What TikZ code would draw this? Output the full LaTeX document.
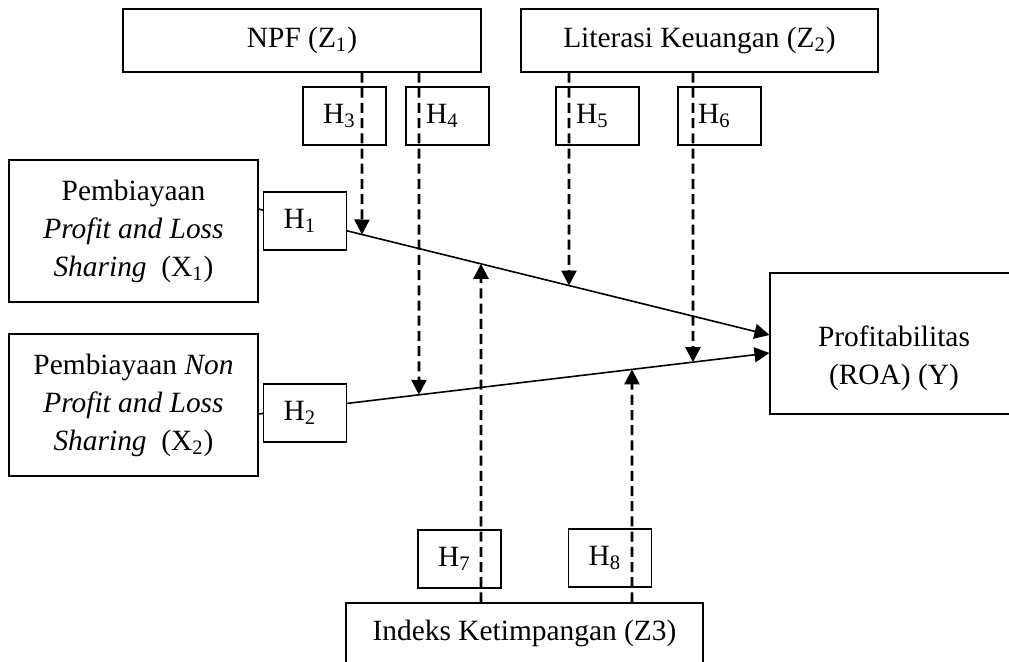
\documentclass[tikz,border=0pt]{standalone}
\usepackage{fontspec}
\setmainfont{Liberation Serif}
\usetikzlibrary{arrows.meta}

\begin{document}
\begin{tikzpicture}[x = 0.5pt, y = -0.5pt,
		box/.style = {draw, line width = 0.55pt, rectangle, inner sep = 0pt, align = center, font = \fontsize{14.7}{19}\selectfont},
		hbox/.style = {box, fill = white, minimum width = 41.5pt, minimum height = 29pt, execute at end node = {\hspace{5pt}}},
		varbox/.style = {box, minimum width = 124.5pt, minimum height = 71pt},
		pathline/.style = {line width = 0.8pt, -{Triangle[length = 7.5pt, width = 7.5pt]}},
		modline/.style = {line width = 1.3pt, dash pattern = on 5pt off 2.6pt, -{Triangle[length = 7.5pt, width = 7.5pt]}}]
	\useasboundingbox (0, 0) rectangle (1009, 662);
	% variables
	\node[box, minimum width = 179pt, minimum height = 31.5pt] (npf) at (302, 40.5) {NPF (Z\textsubscript{1})};
	\node[box, minimum width = 178.5pt, minimum height = 31.5pt] (lit) at (699.5, 40.5) {Literasi Keuangan (Z\textsubscript{2})};
	\node[varbox] (x1) at (133.5, 231) {Pembiayaan\\ \textit{Profit and Loss}\\ \textit{Sharing}\ \ (X\textsubscript{1})};
	\node[varbox] (x2) at (133.5, 405) {Pembiayaan \textit{Non}\\ \textit{Profit and Loss}\\ \textit{Sharing}\ \ (X\textsubscript{2})};
	\node[box, minimum width = 124pt, minimum height = 70.5pt] (roa) at (894, 343.5)
		{\raisebox{-7pt}[\height][\depth]{\begin{tabular}{@{}c@{}}Profitabilitas\\ (ROA) (Y)\end{tabular}}};
	\node[box, minimum width = 178.5pt, minimum height = 30.5pt] (z3) at (524.5, 633.5) {Indeks Ketimpangan (Z3)};
	% direct paths
	\coordinate (a1) at ([yshift = 11pt] x1.east);
	\coordinate (b1) at ([yshift = 4.25pt] roa.west);
	\coordinate (a2) at ([yshift = -4.5pt] x2.east);
	\coordinate (b2) at ([yshift = -4.75pt] roa.west);
	\draw[pathline] (a1) -- (b1);
	\draw[pathline] (a2) -- (b2);
	% hypotheses
	\node[hbox] (h1) at (305, 221) {H\textsubscript{1}};
	\node[hbox] (h2) at (305, 413) {H\textsubscript{2}};
	\node[hbox] (h3) at (344.5, 116) {H\textsubscript{3}};
	\node[hbox] (h4) at (447.5, 116) {H\textsubscript{4}};
	\node[hbox] (h5) at (597.5, 116) {H\textsubscript{5}};
	\node[hbox] (h6) at (719.5, 116) {H\textsubscript{6}};
	\node[hbox] (h7) at (459.5, 559) {H\textsubscript{7}};
	\node[hbox] (h8) at (610, 558) {H\textsubscript{8}};
	% moderating paths
	\foreach \xx/\anc/\k in {362/npf.south/1, 419/npf.south/2, 569/lit.south/1, 693/lit.south/2, 481/z3.north/1, 632/z3.north/2} {
			\coordinate (vt) at (\xx, 0);
			\coordinate (vb) at (\xx, 700);
			\draw[modline] (\anc -| vt) -- (intersection of vt--vb and a\k--b\k);
		}
\end{tikzpicture}
\end{document}
